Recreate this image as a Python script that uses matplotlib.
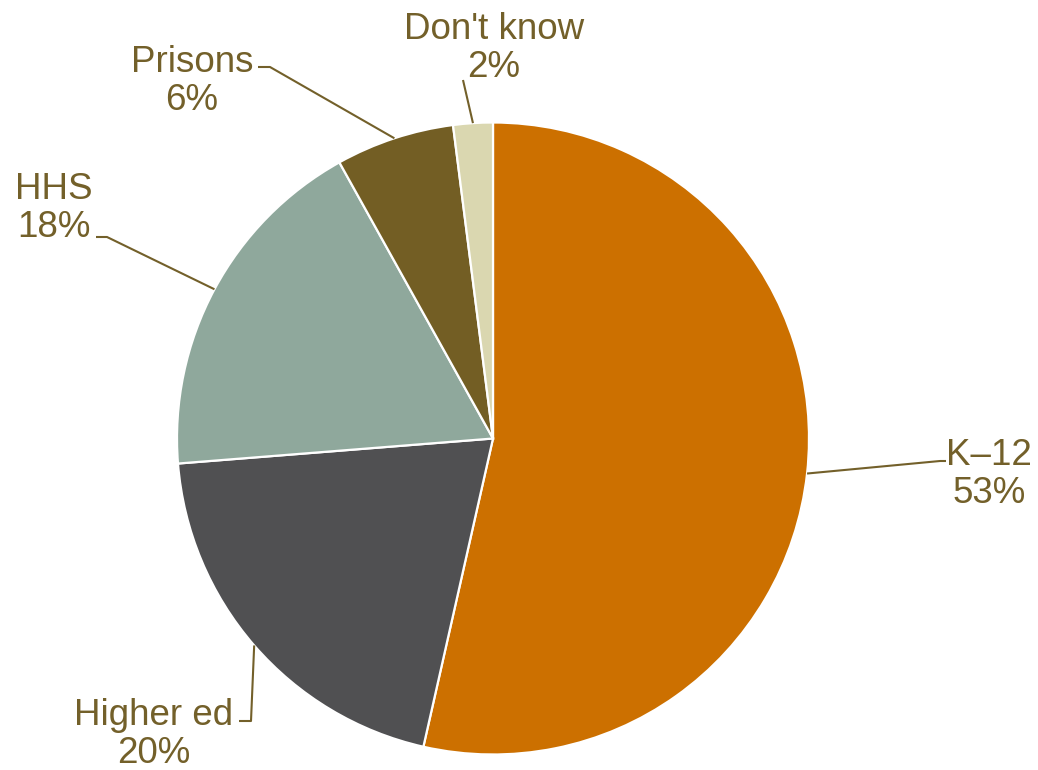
import matplotlib
matplotlib.use("Agg")
import numpy as np
import matplotlib.pyplot as plt

# Data (order = clockwise from 12 o'clock)
labels = ["K\u201312", "Higher ed", "HHS", "Prisons", "Don't know"]
shares = [53, 20, 18, 6, 2]
colors = ["#CC7000", "#505052", "#8FA89C", "#735E24", "#DAD7B0"]

TEXT_COLOR = "#73602A"

# Layout in pixels of the 1038x770 canvas
W, H = 1038, 770
CX, CY, R = 493, 438.5, 316

# label centre x / last-line baseline y, and leader elbow points (pixels)
LABEL_POS = [(989, 503), (154, 763), (54, 237), (192, 110), (494, 77)]
ELBOWS = [
    [(940, 461), (946, 461)],
    [(251, 721), (239, 721)],
    [(107, 237), (96, 237)],
    [(270, 67), (258, 67)],
    [(463, 80)],
]


def px(x, y):
    return (x - CX) / R, (CY - y) / R


def main():
    plt.rcParams["font.family"] = ["Liberation Sans", "DejaVu Sans"]
    fig = plt.figure(figsize=(W / 100, H / 100), dpi=100)
    ax = fig.add_axes([0, 0, 1, 1])

    wedges, _ = ax.pie(
        shares, colors=colors, startangle=90, counterclock=False,
        radius=1.0, wedgeprops=dict(edgecolor="white", linewidth=1.6),
    )

    x0, y0 = px(0, H)
    x1, y1 = px(W, 0)
    ax.set_xlim(x0, x1)
    ax.set_ylim(y0, y1)
    ax.set_aspect("equal")
    ax.axis("off")

    total = float(sum(shares))
    for w, lab, s, (lx, ly), elbow in zip(wedges, labels, shares, LABEL_POS, ELBOWS):
        mid = np.deg2rad((w.theta1 + w.theta2) / 2)
        pts = [(np.cos(mid), np.sin(mid))] + [px(*p) for p in elbow]
        xs, ys = zip(*pts)
        ax.plot(xs, ys, color=TEXT_COLOR, lw=1.5, solid_capstyle="butt")
        tx, ty = px(lx, ly)
        ax.text(tx, ty, f"{lab}\n{s / total * 99:.0f}%", ha="center", va="baseline",
                fontsize=26.5, color=TEXT_COLOR, linespacing=1.12)

    fig.savefig("out.png", dpi=100)
    plt.close(fig)


if __name__ == "__main__":
    main()
